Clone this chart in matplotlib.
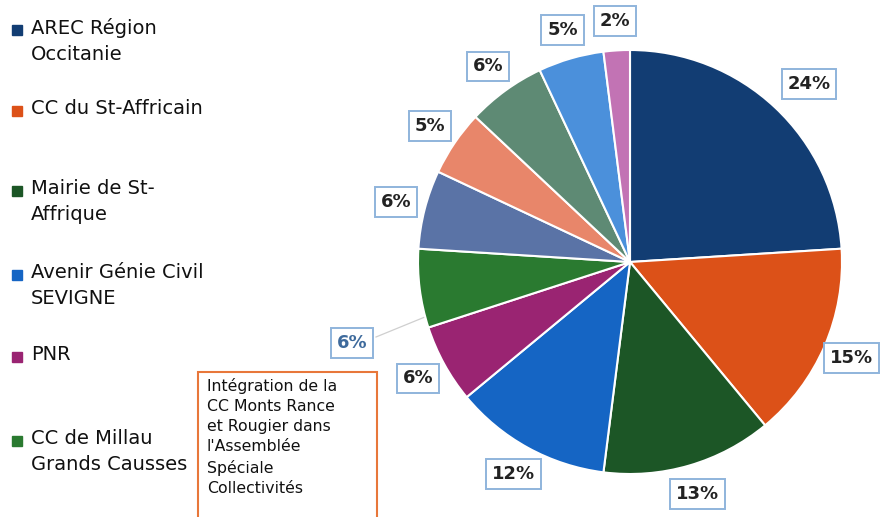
import numpy as np
import matplotlib
matplotlib.use('Agg')
import matplotlib.pyplot as plt
from matplotlib.patches import Rectangle

plt.rcParams['font.family'] = ['DejaVu Sans']

# slices, clockwise from 12 o'clock
shares = [24, 15, 13, 12, 6, 6, 6, 5, 6, 5, 2]
colors = ['#123d73', '#dc5118', '#1c5626', '#1565c4', '#9a2472', '#2a7a30',
          '#5a73a6', '#e8866a', '#5e8a74', '#4b90db', '#c273b4']
legend_names = ['AREC Région\nOccitanie', 'CC du St-Affricain', 'Mairie de St-\nAffrique',
                'Avenir Génie Civil\nSEVIGNE', 'PNR', 'CC de Millau\nGrands Causses']
note = "Intégration de la\nCC Monts Rance\net Rougier dans\nl'Assemblée\nSpéciale\nCollectivités"

W, H = 889, 517
fig = plt.figure(figsize=(W / 100, H / 100), dpi=100)
ax = fig.add_axes([0, 0, 1, 1])

cx, cy, r = 630, H - 262, 212
wedges, _ = ax.pie(shares, colors=colors, startangle=90, counterclock=False,
                   center=(cx, cy), radius=r,
                   wedgeprops=dict(edgecolor='white', linewidth=1.5))
ax.set_xlim(0, W)
ax.set_ylim(0, H)
ax.set_aspect('equal')
ax.axis('off')

box = dict(boxstyle='square,pad=0.32', fc='white', ec='#8fb4dc', lw=1.4)

# percentage labels
for i, w in enumerate(wedges):
    ang = np.deg2rad((w.theta1 + w.theta2) / 2)
    if i == 5:
        # pulled-out label with a leader line
        lx, ly = 352, H - 343
        ex, ey = cx + r * np.cos(np.deg2rad(w.theta2 - 3)), cy + r * np.sin(np.deg2rad(w.theta2 - 3))
        ax.plot([lx + 24, ex], [ly + 6, ey], color='#cfcfcf', lw=0.9, zorder=0)
        ax.text(lx, ly, f'{shares[i]}%', ha='center', va='center', fontsize=13,
                fontweight='bold', color='#3e6a9c', bbox=box)
        continue
    d = r * (1.19 if i == 0 else 1.14)
    a = ang - (np.deg2rad(2) if i == 0 else 0)
    ax.text(cx + d * np.cos(a), cy + d * np.sin(a), f'{shares[i]}%',
            ha='center', va='center', fontsize=13, fontweight='bold', color='#222222',
            bbox=box)

# legend (only the first six entries are visible)
leg_y = [30, 111, 191, 275, 357, 441]
for name, col, y in zip(legend_names, colors, leg_y):
    ax.add_patch(Rectangle((12, H - y - 5), 10, 10, color=col))
    ax.text(31, H - y + 12, name, ha='left', va='top', fontsize=14, color='#111111',
            linespacing=1.5)

# note box
ax.add_patch(Rectangle((198, -10), 179, H - 372 + 10, fill=False, ec='#e8773a', lw=1.5))
ax.text(207, H - 378, note, ha='left', va='top', fontsize=11.3, color='#111111',
        linespacing=1.42)

fig.savefig('out.png', dpi=100)
